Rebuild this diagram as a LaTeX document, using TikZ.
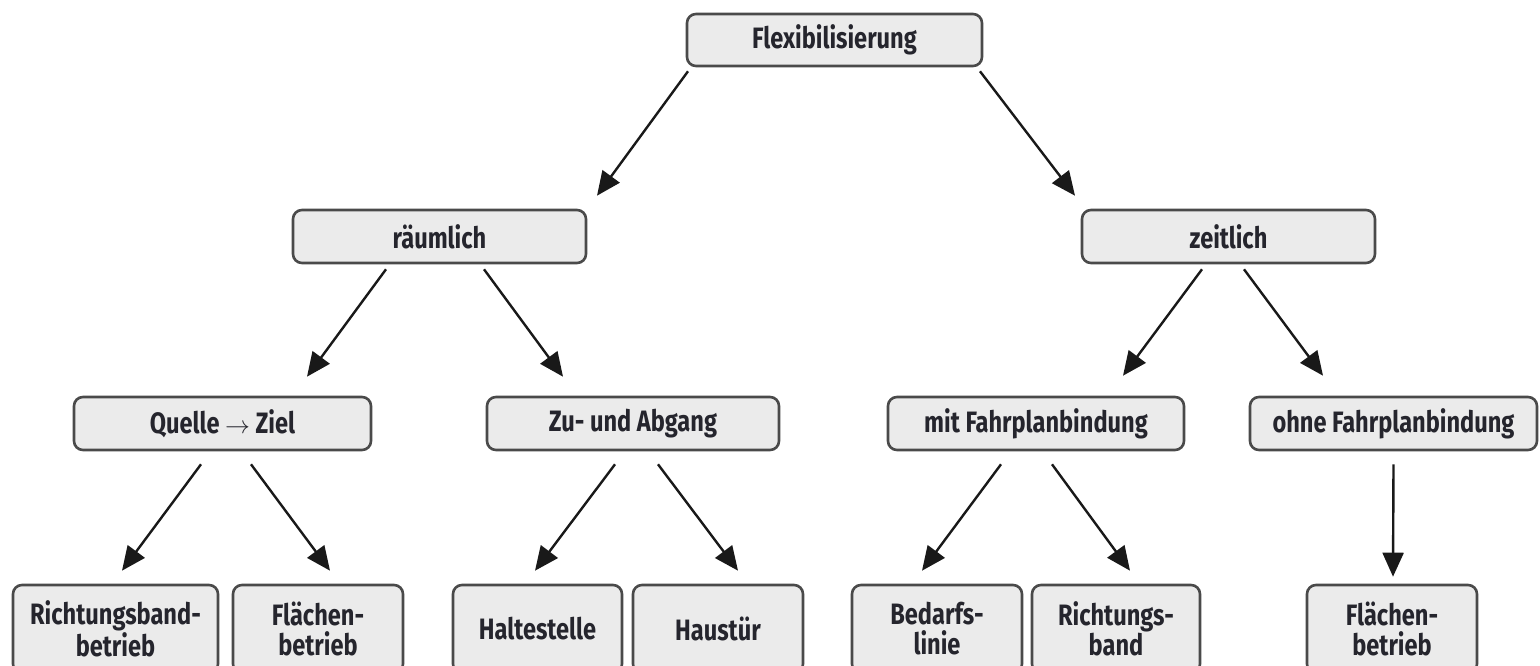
\documentclass[tikz,border=0pt]{standalone}
\usepackage{fontspec}
\newfontfamily\boxlabelfont{Fira Sans}[FakeStretch=0.8]
\usetikzlibrary{arrows.meta}
\definecolor{boxfill}{HTML}{EBEBEB}
\definecolor{boxline}{HTML}{4A4A4A}
\definecolor{txt}{HTML}{25252D}
\tikzset{
  tbox/.style={draw=boxline, line width=2.6pt, fill=boxfill, rounded corners=9pt,
    inner sep=0pt, align=center, text=txt,
    font=\boxlabelfont\bfseries\fontsize{29.5}{30}\selectfont},
  arr/.style={line width=2.4pt, draw=black!90, -{Triangle[length=24pt,width=21pt]}}
}
\begin{document}
\begin{tikzpicture}[x=1pt,y=-1pt]
\useasboundingbox (0,0) rectangle (1540,666);
% level 0
\node[tbox, minimum width=295pt, minimum height=52pt] (flex) at (834.5,40) {Flexibilisierung};
% level 1
\node[tbox, minimum width=293pt, minimum height=53pt] (raum) at (439.5,236.5) {räumlich};
\node[tbox, minimum width=293pt, minimum height=53pt] (zeit) at (1228.5,236.5) {zeitlich};
% level 2
\node[tbox, minimum width=297pt, minimum height=53pt] (quelle) at (222.5,423.5) {Quelle $\rightarrow$ Ziel};
\node[tbox, minimum width=292pt, minimum height=53pt] (zu) at (633,423.5) {Zu- und Abgang};
\node[tbox, minimum width=296pt, minimum height=53pt] (mit) at (1036,423.5) {mit Fahrplanbindung};
\node[tbox, minimum width=287pt, minimum height=53pt] (ohne) at (1393.5,423.5) {ohne Fahrplanbindung};
% level 3
\node[tbox, minimum width=205pt, minimum height=88pt] (rb) at (115.5,629) {Richtungsband-\\betrieb};
\node[tbox, minimum width=170pt, minimum height=88pt] (fb) at (318,629) {Flächen-\\betrieb};
\node[tbox, minimum width=169pt, minimum height=88pt] (halt) at (537.5,629) {Haltestelle};
\node[tbox, minimum width=170pt, minimum height=88pt] (haus) at (718,629) {Haustür};
\node[tbox, minimum width=170pt, minimum height=88pt] (bed) at (937,629) {Bedarfs-\\linie};
\node[tbox, minimum width=168pt, minimum height=88pt] (rich) at (1116,629) {Richtungs-\\band};
\node[tbox, minimum width=170pt, minimum height=88pt] (fb2) at (1392,629) {Flächen-\\betrieb};
% arrows
\draw[arr] ([shift={(-146.5,4)}]flex.south) -- ([shift={(157.5,-13)}]raum.north);
\draw[arr] ([shift={(145.5,4)}]flex.south) -- ([shift={(-153.5,-13)}]zeit.north);
\draw[arr] ([shift={(-53.5,5)}]raum.south) -- ([shift={(84.5,-19)}]quelle.north);
\draw[arr] ([shift={(44.5,5)}]raum.south) -- ([shift={(-70,-19)}]zu.north);
\draw[arr] ([shift={(-26.5,5)}]zeit.south) -- ([shift={(87,-20)}]mit.north);
\draw[arr] ([shift={(15.5,5)}]zeit.south) -- ([shift={(-70.5,-20)}]ohne.north);
\draw[arr] ([shift={(-21.5,13)}]quelle.south) -- ([shift={(6.5,-13)}]rb.north);
\draw[arr] ([shift={(28.5,13)}]quelle.south) -- ([shift={(12,-13)}]fb.north);
\draw[arr] ([shift={(-18,13)}]zu.south) -- ([shift={(-2.5,-13)}]halt.north);
\draw[arr] ([shift={(25,13)}]zu.south) -- ([shift={(20,-13)}]haus.north);
\draw[arr] ([shift={(-35,13)}]mit.south) -- ([shift={(-15,-13)}]bed.north);
\draw[arr] ([shift={(16,13)}]mit.south) -- ([shift={(14,-13)}]rich.north);
\draw[arr] ([shift={(0,13)}]ohne.south) -- ([shift={(1,-7)}]fb2.north);
\end{tikzpicture}
\end{document}
